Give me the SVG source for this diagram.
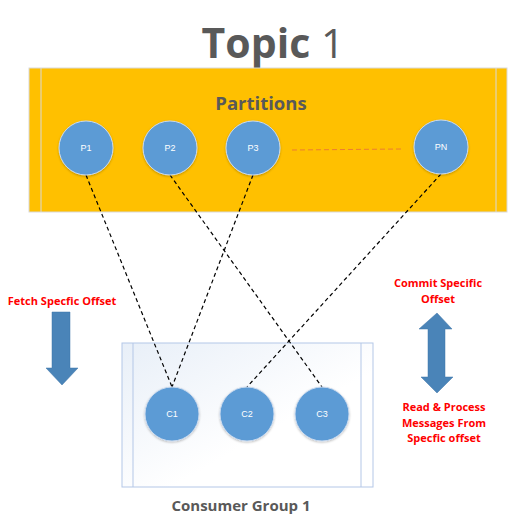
<svg xmlns="http://www.w3.org/2000/svg" width="513" height="527" viewBox="0 0 513 527">
<style>
.node circle{fill:#5B9BD5;stroke:#C9D9EE;stroke-width:1}
.node text{font-family:"Liberation Sans",Arial,sans-serif;font-size:9px;fill:#fff;text-anchor:middle}
.conn line{stroke:#000;stroke-width:1.2;stroke-dasharray:4 3}
.red{font-family:"Open Sans","Liberation Sans",sans-serif;font-weight:bold;font-size:11px;fill:#FF0000;text-anchor:middle}
.grey{font-family:"Open Sans","Liberation Sans",sans-serif;font-weight:bold;fill:#595959;text-anchor:middle}
.arrow{fill:#4A84B8;stroke:#3E75A8;stroke-width:0.5}
</style>
<defs>
<linearGradient id="cg" x1="0" y1="0" x2="1" y2="1">
<stop offset="0" stop-color="#E8EFF8"/>
<stop offset="0.6" stop-color="#FFFFFF"/>
</linearGradient>
<filter id="sh" x="-20%" y="-20%" width="140%" height="140%">
<feDropShadow dx="0" dy="1" stdDeviation="1" flood-opacity="0.25"/>
</filter>
</defs>
<text x="273" y="58" class="grey" font-size="41"><tspan>Topic </tspan><tspan font-weight="normal">1</tspan></text>
<g id="topic">
<rect x="29" y="68" width="478" height="144" fill="#FFC000" stroke="#D9D9D9" stroke-width="1"/>
<line x1="41" y1="68" x2="41" y2="212" stroke="#D9D9D9"/>
<line x1="496" y1="68" x2="496" y2="212" stroke="#D9D9D9"/>
<text x="261" y="110" class="grey" font-size="18.5">Partitions</text>
</g>
<g id="group">
<rect x="122" y="343" width="251" height="144" fill="url(#cg)" stroke="#B4C7E7" stroke-width="1"/>
<line x1="133" y1="343" x2="133" y2="487" stroke="#B4C7E7"/>
<line x1="361" y1="343" x2="361" y2="487" stroke="#B4C7E7"/>
<text x="241" y="511" class="grey" font-size="15">Consumer Group 1</text>
</g>
<line x1="292" y1="150" x2="401" y2="149" stroke="#ED7D31" stroke-width="1" stroke-dasharray="5 3"/>
<g class="conn">
<line x1="86" y1="175" x2="172" y2="387"/>
<line x1="253" y1="175" x2="172" y2="387"/>
<line x1="170" y1="175" x2="322" y2="387"/>
<line x1="441" y1="174" x2="247" y2="387"/>
</g>
<g id="P1" class="node"><circle cx="86" cy="148" r="27" filter="url(#sh)"/><text x="86" y="151">P1</text></g>
<g id="P2" class="node"><circle cx="170" cy="148" r="27" filter="url(#sh)"/><text x="170" y="151">P2</text></g>
<g id="P3" class="node"><circle cx="253" cy="148" r="27" filter="url(#sh)"/><text x="253" y="151">P3</text></g>
<g id="PN" class="node"><circle cx="441" cy="147" r="27" filter="url(#sh)"/><text x="441" y="150">PN</text></g>
<g id="C1" class="node"><circle cx="172" cy="414" r="27" filter="url(#sh)"/><text x="172" y="417">C1</text></g>
<g id="C2" class="node"><circle cx="247" cy="414" r="27" filter="url(#sh)"/><text x="247" y="417">C2</text></g>
<g id="C3" class="node"><circle cx="322" cy="414" r="27" filter="url(#sh)"/><text x="322" y="417">C3</text></g>
<g id="fetch">
<text x="62" y="305" class="red">Fetch Specfic Offset</text>
<polygon class="arrow" points="52,312 70,312 70,368 78,368 62,385 46,368 52,368"/>
</g>
<g id="commit">
<text x="438" y="287" class="red">Commit Specific</text>
<text x="438" y="303" class="red">Offset</text>
<polygon class="arrow" points="437,313 452,329 445,329 445,377 453,377 437,393 421,377 428,377 428,329 419,329"/>
<text x="444" y="411" class="red">Read &amp; Process</text>
<text x="444" y="427" class="red">Messages From</text>
<text x="444" y="442" class="red">Specfic offset</text>
</g>
</svg>
